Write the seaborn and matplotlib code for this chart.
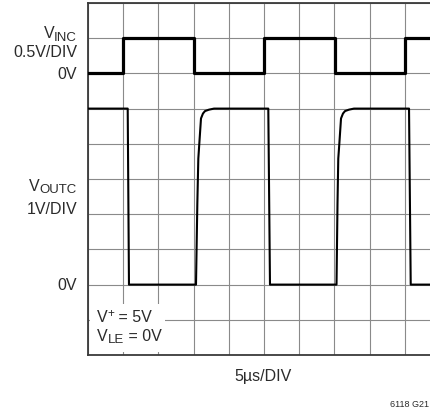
import matplotlib
matplotlib.use("Agg")
import matplotlib.pyplot as plt
from matplotlib.patches import Rectangle
import seaborn as sns
import pandas as pd

# Input trace V_INC (0.5 V/DIV), time in microseconds
vinc_t = [0.0, 5.0, 5.0, 15.05, 15.05, 25.0, 25.0, 35.1, 35.1, 45.0, 45.0, 50.0]
vinc_v = [0.0, 0.0, 0.5, 0.5, 0.0, 0.0, 0.5, 0.5, 0.0, 0.0, 0.5, 0.5]

# Output trace V_OUTC (1 V/DIV), time in microseconds
voutc_t = [0.0, 5.64, 5.82, 15.34, 15.53, 15.67, 15.81, 16.05, 16.33, 16.62, 17.19, 17.9,
           25.61, 25.85, 35.3, 35.44, 35.55, 35.7, 35.94, 36.22, 36.51, 37.07, 37.78,
           45.6, 45.84, 50.0]
voutc_v = [5.0, 5.0, 0.0, 0.0, 2.3, 3.58, 4.0, 4.72, 4.86, 4.93, 4.97, 5.0,
           5.0, 0.0, 0.0, 2.3, 3.58, 4.0, 4.72, 4.86, 4.93, 4.97, 5.0,
           5.0, 0.0, 0.0]

# Screen setup: 10 x 10 divisions, 5 us/DIV horizontally
US_PER_DIV = 5.0
VINC_ZERO_DIV, VINC_V_PER_DIV = 8.0, 0.5
VOUTC_ZERO_DIV, VOUTC_V_PER_DIV = 2.0, 1.0

sns.set_theme(style="white")
plt.rcParams["font.family"] = ["Liberation Sans", "DejaVu Sans"]

fig = plt.figure(figsize=(4.3, 4.1), dpi=100)
W, H = 430.0, 410.0
left, top, div = 88.0, 4.0, 35.2
ax = fig.add_axes([left / W, (H - top - 10 * div) / H, 10 * div / W, 10 * div / H])

df_in = pd.DataFrame({"t": vinc_t,
                      "y": [VINC_ZERO_DIV + v / VINC_V_PER_DIV for v in vinc_v]})
df_out = pd.DataFrame({"t": voutc_t,
                       "y": [VOUTC_ZERO_DIV + v / VOUTC_V_PER_DIV for v in voutc_v]})

sns.lineplot(data=df_in, x="t", y="y", ax=ax, estimator=None, sort=False,
             color="black", linewidth=2.3, zorder=3)
sns.lineplot(data=df_out, x="t", y="y", ax=ax, estimator=None, sort=False,
             color="black", linewidth=1.5, zorder=3)

ax.set_xlim(0, 10 * US_PER_DIV)
ax.set_ylim(0, 10)
ax.set_xticks([i * US_PER_DIV for i in range(11)])
ax.set_yticks(range(11))
ax.tick_params(length=0, labelbottom=False, labelleft=False)
ax.grid(True, color="#8a8a8a", linewidth=0.8)
ax.set_xlabel("")
ax.set_ylabel("")
for side in ["left", "top", "bottom"]:
    ax.spines[side].set_color("#3a3a3a")
    ax.spines[side].set_linewidth(1.3)
ax.spines["right"].set_visible(False)

# White panel behind the test conditions
ax.add_patch(Rectangle((90 / W, 1 - 353 / H), 75 / W, 48 / H,
                       transform=fig.transFigure, facecolor="white",
                       edgecolor="none", zorder=2.5))

TEXT_COLOR = "#2b2b2b"
BASE_SIZE = 11.5
renderer = fig.canvas.get_renderer()


def rich_text(pieces, x, y_base, ha="left"):
    """Lay out (text, size, dy_px) pieces on one baseline, in pixel coords."""
    items = []
    for s, size, dy in pieces:
        t = fig.text(0, 0, s, color=TEXT_COLOR, fontsize=size,
                     ha="left", va="baseline")
        items.append((t, dy, t.get_window_extent(renderer).width))
    total = sum(w for _, _, w in items)
    cx = x - total if ha == "right" else (x - total / 2 if ha == "center" else x)
    for t, dy, w in items:
        t.set_position((cx / W, 1 - (y_base + dy) / H))
        cx += w


# Channel labels on the left
rich_text([("V", BASE_SIZE, 0), ("INC", 9.5, 2.5)], 77, 38.5, ha="right")
rich_text([("0.5V/DIV", BASE_SIZE, 0)], 77, 57, ha="right")
rich_text([("0V", BASE_SIZE, 0)], 77, 79, ha="right")
rich_text([("V", BASE_SIZE, 0), ("OUTC", 9.5, 2.5)], 77, 191, ha="right")
rich_text([("1V/DIV", BASE_SIZE, 0)], 77, 214, ha="right")
rich_text([("0V", BASE_SIZE, 0)], 77, 290, ha="right")

# Test conditions inside the screen
rich_text([("V", BASE_SIZE, 0), ("+", 8.5, -4.5), (" = 5V", BASE_SIZE, 0)], 97, 322)
rich_text([("V", BASE_SIZE, 0), ("LE", 9.5, 2.5), (" = 0V", BASE_SIZE, 0)], 97, 341)

rich_text([("5µs/DIV", BASE_SIZE, 0)], 263, 381, ha="center")
rich_text([("6118 G21", 6.5, 0)], 429, 407, ha="right")

fig.savefig("out.png", dpi=100)
